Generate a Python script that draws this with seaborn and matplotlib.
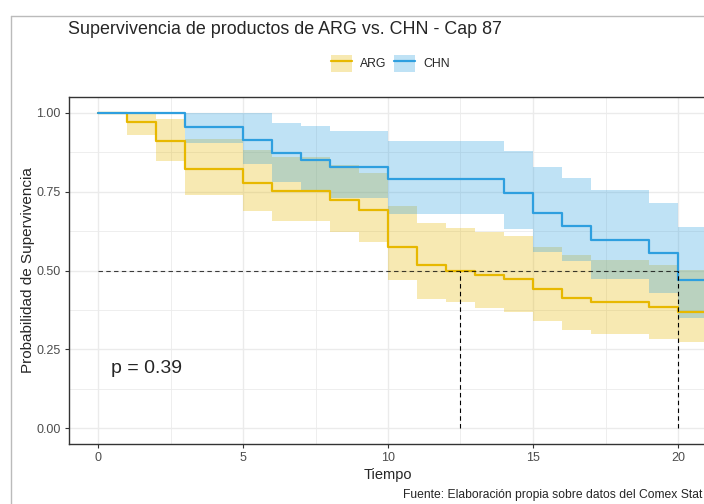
import pandas as pd
import seaborn as sns
import matplotlib.pyplot as plt
from matplotlib.patches import Patch
from matplotlib.lines import Line2D

# Kaplan-Meier estimates (step values, CI bounds)
arg_time = [0, 1, 2, 3, 5, 6, 8, 9, 10, 11, 12, 13, 14, 15, 16, 17, 19, 20]
arg_surv = [1.0, 0.971, 0.911, 0.823, 0.778, 0.751, 0.723, 0.691, 0.576,
            0.518, 0.500, 0.486, 0.473, 0.442, 0.412, 0.399, 0.385, 0.370]
arg_upper = [1.0, 1.0, 0.98, 0.917, 0.882, 0.861, 0.834, 0.81, 0.703,
             0.65, 0.636, 0.623, 0.608, 0.576, 0.55, 0.534, 0.518, 0.502]
arg_lower = [1.0, 0.931, 0.846, 0.738, 0.688, 0.657, 0.621, 0.59, 0.47,
             0.409, 0.399, 0.381, 0.368, 0.341, 0.312, 0.299, 0.284, 0.273]

chn_time = [0, 3, 5, 6, 7, 8, 10, 14, 15, 16, 17, 19, 20]
chn_surv = [1.0, 0.956, 0.915, 0.874, 0.851, 0.829, 0.789, 0.745, 0.681,
            0.641, 0.596, 0.555, 0.47]
chn_upper = [1.0, 1.0, 1.0, 0.969, 0.959, 0.941, 0.91, 0.879, 0.829,
             0.792, 0.755, 0.715, 0.637]
chn_lower = [1.0, 0.903, 0.838, 0.782, 0.755, 0.729, 0.679, 0.631, 0.56,
             0.531, 0.474, 0.428, 0.349]

groups = ["ARG", "CHN"]
medians = [12.5, 20]
p_label = "p = 0.39"
t_end = 22  # follow-up continues past the visible area

colors = {"ARG": "#E7B800", "CHN": "#2E9FDF"}

sns.set_theme(style="whitegrid")
plt.rcParams["font.family"] = ["Liberation Sans", "DejaVu Sans"]


def km_frame(name, t, s, lo, hi):
    d = pd.DataFrame({"Tiempo": t, "surv": s, "lower": lo, "upper": hi})
    last = d.iloc[[-1]].copy()
    last["Tiempo"] = t_end
    d = pd.concat([d, last], ignore_index=True)
    d["strata"] = name
    return d


df = pd.concat([
    km_frame("ARG", arg_time, arg_surv, arg_lower, arg_upper),
    km_frame("CHN", chn_time, chn_surv, chn_lower, chn_upper),
], ignore_index=True)

fig = plt.figure(figsize=(7.04, 5.04), dpi=100)
ax = fig.add_axes([69 / 704, 1 - 444 / 504, 638 / 704, 347 / 504])

for g in groups:
    sub = df[df["strata"] == g]
    ax.fill_between(sub["Tiempo"], sub["lower"], sub["upper"], step="post",
                    color=colors[g], alpha=0.3, linewidth=0)

sns.lineplot(data=df, x="Tiempo", y="surv", hue="strata", palette=colors,
             drawstyle="steps-post", linewidth=1.6, ax=ax, legend=False,
             estimator=None, sort=False)

# median survival guides
ax.plot([0, max(medians)], [0.5, 0.5], color="black", lw=0.8,
        ls=(0, (4, 3)), alpha=0.75)
for m in medians:
    ax.plot([m, m], [0, 0.5], color="black", lw=0.8, ls=(0, (4, 3)))

ax.text(0.45, 0.19, p_label, fontsize=14, va="center", ha="left")

ax.set_xlim(-1, 21)
ax.set_ylim(-0.05, 1.05)
ax.set_xticks([0, 5, 10, 15, 20])
ax.set_xticks([2.5, 7.5, 12.5, 17.5], minor=True)
ax.set_yticks([0, 0.25, 0.5, 0.75, 1.0])
ax.set_yticks([0.125, 0.375, 0.625, 0.875], minor=True)
ax.set_yticklabels(["0.00", "0.25", "0.50", "0.75", "1.00"])
ax.grid(which="major", color="#EBEBEB", linewidth=1.0)
ax.grid(which="minor", color="#EBEBEB", linewidth=0.6)
ax.tick_params(axis="both", which="major", length=3, width=0.8,
               color="#333333", labelsize=9, labelcolor="#4D4D4D", pad=3)
ax.tick_params(which="minor", length=0)
ax.tick_params(bottom=True, left=True)
for sp in ax.spines.values():
    sp.set_color("#333333")
    sp.set_linewidth(1.0)
ax.set_xlabel("Tiempo", fontsize=10.5, labelpad=3)
ax.set_ylabel("Probabilidad de Supervivencia", fontsize=11, labelpad=1)

handles = [(Patch(facecolor=colors[g], alpha=0.3, linewidth=0),
            Line2D([], [], color=colors[g], lw=1.6)) for g in groups]
ax.legend(handles, groups, loc="center", bbox_to_anchor=(0.504, 1.0965),
          ncol=2, frameon=False, fontsize=8.8, handlelength=1.69,
          handleheight=1.77, columnspacing=0.65, handletextpad=0.7,
          borderpad=0)

fig.text(68 / 704, 1 - 30 / 504, "Supervivencia de productos de ARG vs. CHN - Cap 87",
         fontsize=12.9, va="center", ha="left")
fig.text(702 / 704, 1 - 495 / 504,
         "Fuente: Elaboración propia sobre datos del Comex Stat",
         fontsize=8.7, va="center", ha="right")

# outer frame of the exported plot (cut off at right and bottom)
fx, fy = 11 / 704, 1 - 16 / 504
fig.add_artist(Line2D([fx, fx], [0, fy], color="#BBBBBB", lw=1.0))
fig.add_artist(Line2D([fx, 1.0], [fy, fy], color="#BBBBBB", lw=1.0))

fig.savefig("out.png", dpi=100)
